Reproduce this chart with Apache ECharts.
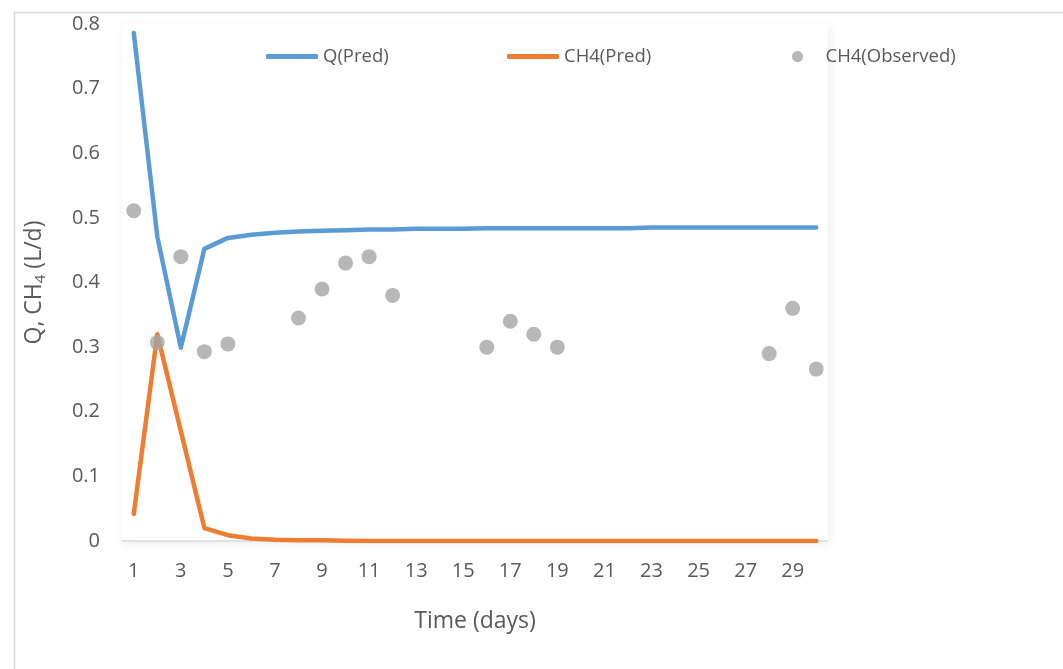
<!DOCTYPE html>
<html>
<head>
<meta charset="utf-8">
<script src="https://cdn.jsdelivr.net/npm/echarts@6/dist/echarts.min.js"></script>
<style>html,body{margin:0;padding:0;background:#fff;}#c{width:1063px;height:669px;}</style>
</head>
<body>
<div id="c"></div>
<script>
const days = ['1','2','3','4','5','6','7','8','9','10','11','12','13','14','15','16','17','18','19','20','21','22','23','24','25','26','27','28','29','30'];
const qPred = [0.786,0.471,0.299,0.452,0.469,0.474,0.477,0.479,0.480,0.481,0.482,0.482,0.483,0.483,0.483,0.484,0.484,0.484,0.484,0.484,0.484,0.484,0.485,0.485,0.485,0.485,0.485,0.485,0.485,0.485];
const ch4Pred = [0.042,0.320,0.170,0.020,0.009,0.004,0.002,0.001,0.001,0.0005,0,0,0,0,0,0,0,0,0,0,0,0,0,0,0,0,0,0,0,0];
const obsDays = ['1','2','3','4','5','8','9','10','11','12','16','17','18','19','28','29','30'];
const obsValues = [0.511,0.307,0.440,0.293,0.305,0.345,0.390,0.430,0.440,0.380,0.300,0.340,0.320,0.300,0.290,0.360,0.266];
const yTicks = [0,0.1,0.2,0.3,0.4,0.5,0.6,0.7,0.8];

const FONT = 'Open Sans';
const TXT = '#595959';
const chart = echarts.init(document.getElementById('c'), null, {renderer:'canvas'});
const legendText = {color: TXT, fontSize: 18.5, fontFamily: FONT};
chart.setOption({
  animation: false,
  backgroundColor: '#fff',
  graphic: [{
    type: 'rect', left: 12, top: 10, z: -10,
    shape: {width: 1100, height: 700},
    style: {fill: 'none', stroke: '#d9d9d9', lineWidth: 1.5}
  }],
  grid: {left: 122, right: 235, top: 24, bottom: 128, show: true, backgroundColor: '#fff', borderWidth: 0,
         shadowBlur: 10, shadowColor: 'rgba(0,0,0,0.07)', shadowOffsetX: 2, shadowOffsetY: 3},
  legend: [
    {data: [{name: 'Q(Pred)', icon: 'roundRect'}], left: 266, top: 47, itemWidth: 52, itemHeight: 5, itemGap: 0, textStyle: legendText, padding: 0},
    {data: [{name: 'CH4(Pred)', icon: 'roundRect'}], left: 507, top: 47, itemWidth: 52, itemHeight: 5, itemGap: 0, textStyle: legendText, padding: 0},
    {data: [{name: 'CH4(Observed)', icon: 'circle'}], left: 792, top: 47, itemWidth: 46, itemHeight: 11, itemGap: 0, textStyle: legendText, padding: 0}
  ],
  xAxis: {
    type: 'category', data: days, boundaryGap: true,
    name: 'Time (days)', nameLocation: 'middle', nameGap: 69,
    nameTextStyle: {color: TXT, fontSize: 23, fontFamily: FONT},
    axisLine: {lineStyle: {color: '#d9d9d9', width: 1.5}},
    axisTick: {show: false},
    axisLabel: {interval: 1, color: TXT, fontSize: 20, fontFamily: FONT, margin: 20}
  },
  yAxis: {
    type: 'value', min: yTicks[0], max: yTicks[yTicks.length-1], interval: 0.1,
    name: 'Q, CH{sub|4} (L/d)', nameLocation: 'middle', nameGap: 74, nameRotate: 90,
    nameTextStyle: {color: TXT, fontSize: 23, fontFamily: FONT,
      rich: {sub: {fontSize: 15, color: TXT, fontFamily: FONT, verticalAlign: 'bottom', padding: [12,0,0,0]}}},
    axisLine: {show: false}, axisTick: {show: false}, splitLine: {show: false},
    axisLabel: {color: TXT, fontSize: 20, fontFamily: FONT, margin: 22,
      formatter: v => v === 0 ? '0' : v.toFixed(1)}
  },
  series: [
    {name: 'Q(Pred)', type: 'line', data: qPred, showSymbol: false, symbol: 'none',
     lineStyle: {color: '#5B9BD5', width: 4.5, cap: 'round', join: 'round'}, itemStyle: {color: '#5B9BD5'}, z: 3},
    {name: 'CH4(Pred)', type: 'line', data: ch4Pred, showSymbol: false, symbol: 'none',
     lineStyle: {color: '#ED7D31', width: 4.5, cap: 'round', join: 'round'}, itemStyle: {color: '#ED7D31'}, z: 3},
    {name: 'CH4(Observed)', type: 'scatter', data: obsDays.map((d, i) => [d, obsValues[i]]),
     symbol: 'circle', symbolSize: 15, itemStyle: {color: '#A5A5A5'}, z: 4}
  ]
});
</script>
</body>
</html>
